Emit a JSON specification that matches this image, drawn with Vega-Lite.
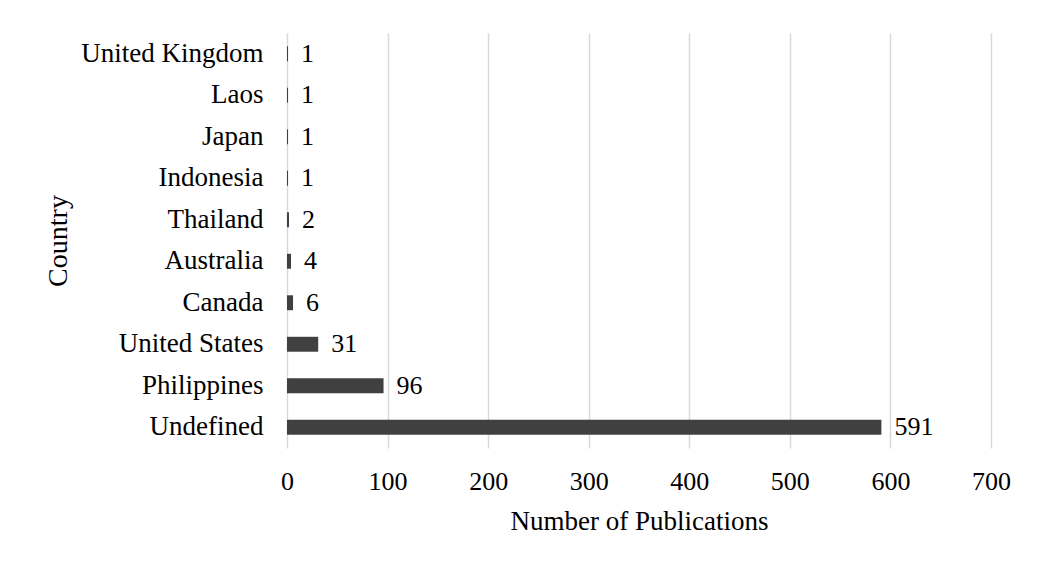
{
  "$schema": "https://vega.github.io/schema/vega-lite/v6.json",
  "autosize": {"type": "none"},
  "width": 704,
  "height": 415,
  "padding": {"left": 287, "top": 33, "right": 47, "bottom": 119},
  "background": "white",
  "config": {
    "view": {"stroke": null},
    "font": "Liberation Serif",
    "axis": {"labelFont": "Liberation Serif", "titleFont": "Liberation Serif", "labelColor": "black", "titleColor": "black", "titleFontWeight": "normal"}
  },
  "data": {
    "values": [
      {"country": "United Kingdom", "count": 1},
      {"country": "Laos", "count": 1},
      {"country": "Japan", "count": 1},
      {"country": "Indonesia", "count": 1},
      {"country": "Thailand", "count": 2},
      {"country": "Australia", "count": 4},
      {"country": "Canada", "count": 6},
      {"country": "United States", "count": 31},
      {"country": "Philippines", "count": 96},
      {"country": "Undefined", "count": 591}
    ]
  },
  "encoding": {
    "y": {
      "field": "country",
      "type": "nominal",
      "sort": ["United Kingdom", "Laos", "Japan", "Indonesia", "Thailand", "Australia", "Canada", "United States", "Philippines", "Undefined"],
      "scale": {"paddingInner": 0.64, "paddingOuter": 0.32},
      "axis": {"title": "Country", "domain": false, "ticks": false, "labelPadding": 24, "labelLimit": 400, "labelFontSize": 27, "titleFontSize": 28, "titlePadding": 15}
    },
    "x": {
      "field": "count",
      "type": "quantitative",
      "scale": {"domain": [0, 700], "nice": false},
      "axis": {"title": "Number of Publications", "values": [0, 100, 200, 300, 400, 500, 600, 700], "domain": false, "ticks": false, "grid": true, "gridColor": "#d9d9d9", "gridWidth": 1.5, "labelFlush": false, "labelOverlap": false, "labelPadding": 20, "labelFontSize": 26, "titleFontSize": 27, "titlePadding": 14}
    }
  },
  "layer": [
    {"mark": {"type": "bar", "color": "#404040"}},
    {"mark": {"type": "text", "align": "left", "baseline": "middle", "dx": 13, "fontSize": 26, "font": "Liberation Serif", "color": "black"}, "encoding": {"text": {"field": "count", "type": "quantitative"}}}
  ]
}
